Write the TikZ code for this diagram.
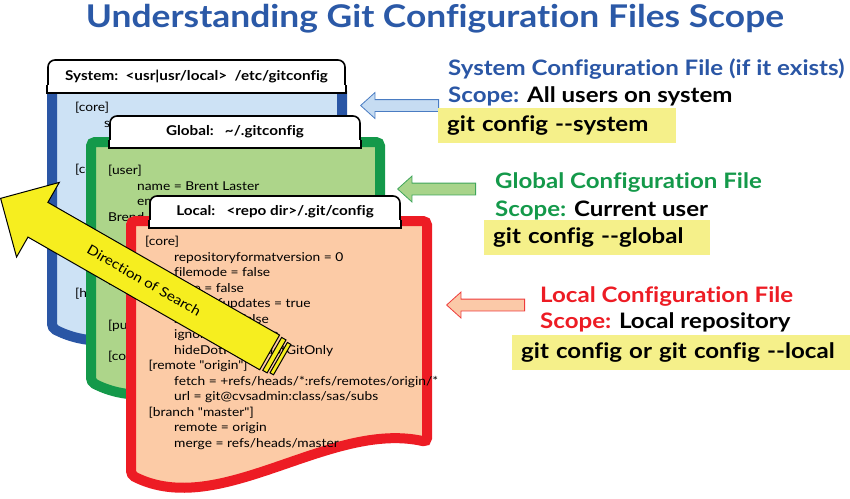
\documentclass[tikz,border=0pt]{standalone}
\usepackage{fontspec}
\newfontfamily\latofont{Lato}[FakeStretch=1.13, Ligatures=NoCommon]
\usepackage{tikz}
\usetikzlibrary{shapes.arrows, calc, positioning}

\definecolor{titleblue}{HTML}{2B59A7}
\definecolor{sysblue}{HTML}{2A56A5}
\definecolor{sysfill}{HTML}{CDE2F5}
\definecolor{globgreen}{HTML}{14994A}
\definecolor{globfill}{HTML}{ADD58A}
\definecolor{locred}{HTML}{ED1C24}
\definecolor{locfill}{HTML}{FCCBA6}
\definecolor{cmdyellow}{HTML}{F5F08A}
\definecolor{searchyellow}{HTML}{F6EE1F}
\definecolor{sysptr}{HTML}{4A7CC2}
\definecolor{sysptrfill}{HTML}{C6DCF2}
\definecolor{globptr}{HTML}{3FA55B}
\definecolor{globptrfill}{HTML}{A8D48A}
\definecolor{locptr}{HTML}{EE3B3B}
\definecolor{locptrfill}{HTML}{FBC9A8}

\newcommand\gitind{\hspace*{29pt}}

\begin{document}
\begin{tikzpicture}[x=1pt, y=-1pt,
  cfgpage/.style={line width=10pt, rounded corners=4pt},
  cfgtext/.style={anchor=north west, align=left, inner sep=0pt, font=\latofont\fontsize{12.2}{15.5}\selectfont},
  tabbox/.style={draw, fill=white, line width=1.6pt, rounded corners=7pt, inner sep=0pt, font=\latofont\bfseries\fontsize{13.5}{16}\selectfont},
  tabfoot/.style={draw, fill=white, line width=1.6pt},
  ptr/.style={single arrow, shape border rotate=180, anchor=tip, minimum height=78pt, inner sep=0pt, inner ysep=5.5pt, single arrow head extend=7pt, single arrow tip angle=84, line width=0.8pt},
  headline/.style={anchor=base west, inner sep=0pt, font=\latofont\bfseries\fontsize{21.3}{25}\selectfont},
  cmdbox/.style={anchor=west, fill=cmdyellow, inner xsep=9pt, inner ysep=0pt, minimum height=35pt, align=left, font=\latofont\bfseries\fontsize{21.3}{25}\selectfont},
  band/.style={draw, fill=searchyellow, line width=1pt, rotate=-29.8, minimum height=38pt, inner sep=0pt}
]
\path[use as bounding box] (0,0) rectangle (850,498);

\node[anchor=base, text=titleblue, font=\latofont\bfseries\fontsize{31.3}{36}\selectfont] (title) at (435,27) {Understanding Git Configuration Files Scope};

\draw[cfgpage, draw=sysblue, fill=sysfill] (52,88) -- (52,328) .. controls (139,373) and (246,273) .. (342,295) -- (342,88) -- cycle;
\node[cfgtext] (systext) at (75,102) {[core]\\ \gitind symlinks = false\\[31pt]{}[color]\\[108.5pt]{}[help]};

\draw[cfgpage, draw=globgreen, fill=globfill] (91,142) -- (91,382) .. controls (178,427) and (285,327) .. (380,349) -- (380,142) -- cycle;
\node[cfgtext] (globtext) at (108,165) {[user]\\ \gitind name = Brent Laster\\ \gitind email\\ Brend\\[46.5pt]{}[alias]\\[31pt]{}[push]\\[15.5pt]{}[core]};

\draw[cfgpage, draw=locred, fill=locfill] (131,221) -- (131,475) .. controls (220,520) and (329,420) .. (427,442) -- (427,221) -- cycle;
\node[cfgtext] (loctext) at (145,236) {[core]\\
  \gitind repositoryformatversion = 0\\
  \gitind filemode = false\\
  \gitind bare = false\\
  \gitind logallrefupdates = true\\
  \gitind symlinks = false\\
  \gitind ignorecase = true\\
  \gitind hideDotFiles = dotGitOnly\\{}
  [remote "origin"]\\
  \gitind fetch = +refs/heads/*:refs/remotes/origin/*\\
  \gitind url = git@cvsadmin:class/sas/subs\\{}
  [branch "master"]\\
  \gitind remote = origin\\
  \gitind merge = refs/heads/master};

\node[tabbox, minimum width=297pt, minimum height=32pt] (systab) at (196.5,76) {System:\ \ <usr|usr/local>\ \ /etc/gitconfig};
\node[tabbox, minimum width=250pt, minimum height=31pt] (globtab) at (235,131.5) {Global:\ \ \ \textasciitilde/.gitconfig};
\node[tabbox, minimum width=250pt, minimum height=31pt] (loctab) at (275,211.5) {Local:\ \ \ <repo dir>/.git/config};
\foreach \t in {systab,globtab,loctab}
  \draw[tabfoot] ([yshift=8pt]\t.south west) -- (\t.south west) -- (\t.south east) -- ([yshift=8pt]\t.south east);

\node[ptr, draw=sysptr, fill=sysptrfill] (sysptr) at (360,105.5) {};
\node[ptr, draw=globptr, fill=globptrfill] (globptr) at (397,189) {};
\node[ptr, draw=locptr, fill=locptrfill] (locptr) at (446,305) {};

\node[headline, text=sysblue] (syshead) at (448,75) {System Configuration File (if it exists)};
\node[headline] (sysscope) at (448,102) {\textcolor{sysblue}{Scope:} All users on system};
\node[cmdbox, text width=220pt] (syscmd) at (438,125.5) {git config --system};

\node[headline, text=globgreen] (globhead) at (495,188) {Global Configuration File};
\node[headline] (globscope) at (495,216) {\textcolor{globgreen}{Scope:} Current user};
\node[cmdbox, text width=208pt] (globcmd) at (484,237.5) {git config --global};

\node[headline, text=locred] (lochead) at (540,302) {Local Configuration File};
\node[headline] (locscope) at (540,328) {\textcolor{locred}{Scope:} Local repository};
\node[cmdbox, text width=320pt] (loccmd) at (512,352.5) {git config or git config --local};

\node[single arrow, shape border rotate=180, rotate=-29.8, anchor=tip, draw, line width=1pt, fill=searchyellow, minimum height=310pt, inner sep=0pt, inner ysep=19.5pt, single arrow head extend=23pt, single arrow tip angle=90] (search) at (0,198) {};
\node[band, minimum width=5pt] (band1) at ($(search.tail)!-5pt!(search.tip)$) {};
\node[band, minimum width=4pt, minimum height=35pt] (band2) at ($(search.tail)!-12pt!(search.tip)$) {};
\node[rotate=-29.8, font=\latofont\fontsize{13.5}{16}\selectfont] (searchlabel) at ($(search.tip)!166pt!(search.tail)$) {Direction of Search};
\end{tikzpicture}
\end{document}
